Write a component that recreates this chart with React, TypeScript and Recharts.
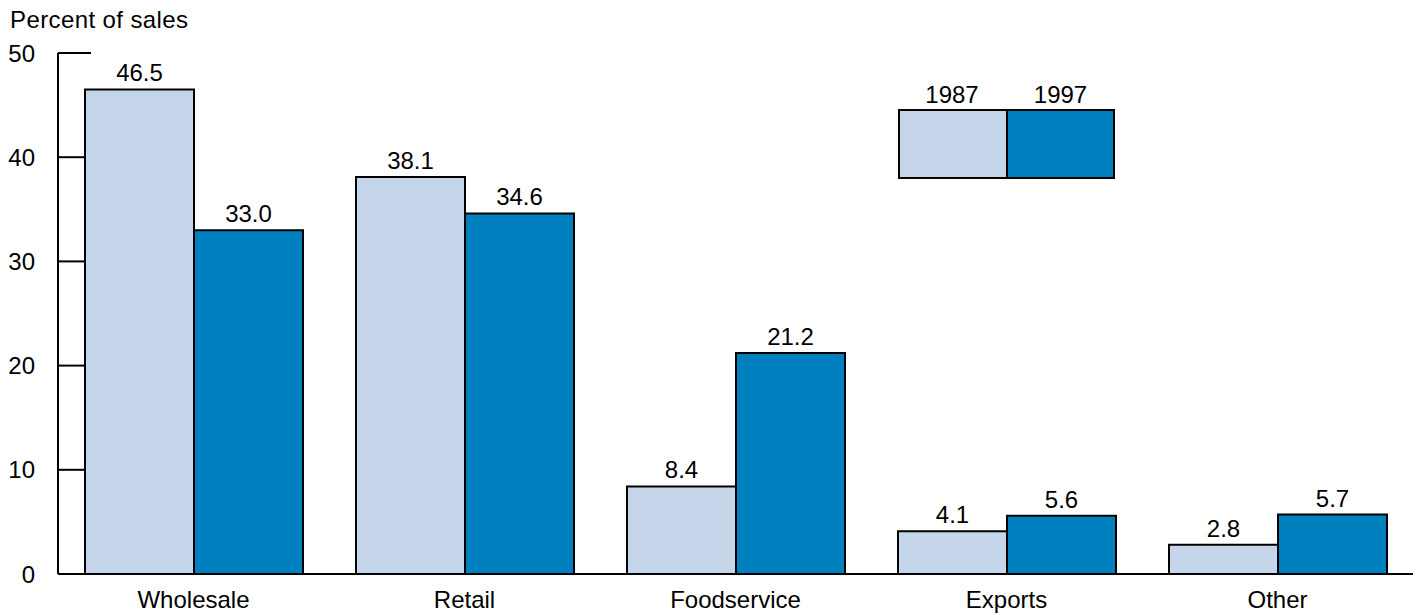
import { BarChart, Bar, XAxis, YAxis, LabelList } from "recharts"

// Sales by market channel, percent of sales
const categories = ["Wholesale", "Retail", "Foodservice", "Exports", "Other"]
const sales1987 = [46.5, 38.1, 8.4, 4.1, 2.8]
const sales1997 = [33.0, 34.6, 21.2, 5.6, 5.7]
const yTicks = [0, 10, 20, 30, 40, 50]

const series = [
  { key: "y1987", name: "1987", color: "#c5d5ea" },
  { key: "y1997", name: "1997", color: "#0080bf" },
]

const data = categories.map((name, i) => ({
  name,
  y1987: sales1987[i],
  y1997: sales1997[i],
}))

const FONT = "Arial, 'Liberation Sans', sans-serif"
const FS = 24

// y tick: label left of the axis, tick line pointing into the plot
// (lower ticks end where the first bar starts, it hides the rest)
function YTick(props: any) {
  const { x, y, payload } = props
  const len = payload.value >= 50 ? 33 : 27
  return (
    <g>
      <line x1={x} x2={x + len} y1={y} y2={y} stroke="#000" strokeWidth={2} />
      <text x={x - 23} y={y} dy="0.355em" textAnchor="end" fontSize={FS} fill="#000" fontFamily={FONT}>
        {payload.value}
      </text>
    </g>
  )
}

function LegendBox() {
  return (
    <div style={{ position: "absolute", left: 898, top: 81, display: "flex", fontFamily: FONT }}>
      {series.map((s, i) => {
        const last = i === series.length - 1
        return (
          <div key={s.key} style={{ width: last ? 109 : 108, textAlign: "center", boxSizing: "border-box" }}>
            <div style={{ fontSize: FS, lineHeight: "28px", color: "#000" }}>{s.name}</div>
            <div
              style={{
                height: 70,
                boxSizing: "border-box",
                background: s.color,
                borderTop: "2px solid #000",
                borderBottom: "2px solid #000",
                borderLeft: "2px solid #000",
                borderRight: last ? "2px solid #000" : "none",
              }}
            />
          </div>
        )
      })}
    </div>
  )
}

export default function App() {
  return (
    <div style={{ position: "absolute", left: 0, top: 0, width: 1418, height: 615, background: "#fff", fontFamily: FONT }}>
      <div style={{ position: "absolute", left: 10, top: 6, fontSize: FS, lineHeight: "28px", color: "#000", letterSpacing: 0.4 }}>
        Percent of sales
      </div>
      <BarChart
        width={1418}
        height={615}
        data={data}
        margin={{ top: 53, right: 5, left: 0, bottom: 0 }}
        barCategoryGap={27}
        barGap={0}
      >
        <XAxis
          dataKey="name"
          height={41}
          tickLine={false}
          tickSize={0}
          tickMargin={17}
          axisLine={{ stroke: "#000", strokeWidth: 2 }}
          tick={{ fontSize: FS, fill: "#000", fontFamily: FONT }}
        />
        <YAxis
          width={58}
          domain={[0, 50]}
          ticks={yTicks}
          interval={0}
          tickLine={false}
          tickSize={0}
          tickMargin={0}
          axisLine={{ stroke: "#000", strokeWidth: 2 }}
          tick={<YTick />}
        />
        {series.map((s) => (
          <Bar
            key={s.key}
            dataKey={s.key}
            name={s.name}
            fill={s.color}
            stroke="#000"
            strokeWidth={2}
            isAnimationActive={false}
          >
            <LabelList
              dataKey={s.key}
              position="top"
              offset={8}
              formatter={(v: any) => Number(v).toFixed(1)}
              style={{ fontSize: FS, fill: "#000", fontFamily: FONT }}
            />
          </Bar>
        ))}
      </BarChart>
      <LegendBox />
    </div>
  )
}
